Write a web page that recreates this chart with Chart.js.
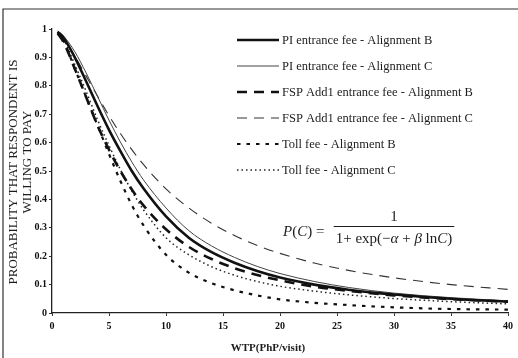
<!DOCTYPE html>
<html>
<head>
<meta charset="utf-8">
<script src="https://cdn.jsdelivr.net/npm/chart.js@4.4.1/dist/chart.umd.min.js"></script>
<style>
  html, body { margin: 0; padding: 0; background: #fff; }
  #wrap { width: 518px; height: 358px; }
</style>
</head>
<body>
<div id="wrap"><canvas id="wtpChart" width="518" height="358"></canvas></div>
<script>
// WTP (PhP/visit) vs probability that respondent is willing to pay
const wtp = [0.5, 1, 2, 3, 4, 5, 6, 7, 8, 10, 12, 14, 16, 18, 20, 23, 26, 30, 35, 40]

const piB  = [0.99, 0.97, 0.90, 0.815, 0.728, 0.645, 0.57, 0.50, 0.44, 0.34, 0.265, 0.214, 0.177, 0.148, 0.125, 0.100, 0.082, 0.065, 0.050, 0.040]
const piC  = [0.993, 0.976, 0.920, 0.845, 0.762, 0.679, 0.602, 0.532, 0.470, 0.370, 0.290, 0.236, 0.196, 0.164, 0.139, 0.111, 0.090, 0.070, 0.054, 0.043]
const fspB = [0.985, 0.955, 0.86, 0.76, 0.66, 0.575, 0.50, 0.435, 0.38, 0.295, 0.233, 0.19, 0.158, 0.134, 0.115, 0.093, 0.078, 0.062, 0.049, 0.040]
const fspC = [0.988, 0.965, 0.904, 0.834, 0.763, 0.695, 0.632, 0.575, 0.524, 0.437, 0.370, 0.316, 0.273, 0.238, 0.210, 0.176, 0.150, 0.124, 0.100, 0.083]
const tollB = [0.99, 0.96, 0.86, 0.76, 0.66, 0.56, 0.465, 0.38, 0.31, 0.205, 0.142, 0.105, 0.08, 0.062, 0.048, 0.036, 0.028, 0.02, 0.014, 0.012]
const tollC = [0.99, 0.965, 0.875, 0.78, 0.68, 0.59, 0.505, 0.43, 0.365, 0.265, 0.205, 0.163, 0.133, 0.111, 0.094, 0.077, 0.064, 0.051, 0.040, 0.032]

const seriesLabels = [
  'PI entrance fee - Alignment B',
  'PI entrance fee - Alignment C',
  'FSP Add1 entrance fee - Alignment B',
  'FSP Add1 entrance fee - Alignment C',
  'Toll fee - Alignment B',
  'Toll fee - Alignment C'
]

const yTitle = ['PROBABILITY THAT RESPONDENT IS', 'WILLING TO PAY']
const xTitle = 'WTP(PhP/visit)'

const SERIF = '"Liberation Serif", "DejaVu Serif", serif'
const INK = '#1c1c1c'

const toPoints = (ys) => ys.map((y, i) => ({ x: wtp[i], y }))

// line styles, same order as seriesLabels
const styles = [
  { borderWidth: 2.6, borderDash: [], borderColor: '#111' },
  { borderWidth: 1, borderDash: [], borderColor: '#444' },
  { borderWidth: 2.6, borderDash: [10, 7], borderColor: '#111' },
  { borderWidth: 1.1, borderDash: [10, 7], borderColor: '#333' },
  { borderWidth: 2.2, borderDash: [3.5, 6], borderColor: '#111' },
  { borderWidth: 1.5, borderDash: [1.5, 3], borderColor: '#222' }
]

const datasets = [piB, piC, fspB, fspC, tollB, tollC].map((ys, i) => ({
  label: seriesLabels[i],
  data: toPoints(ys),
  fill: false,
  pointRadius: 0,
  cubicInterpolationMode: 'monotone',
  ...styles[i]
}))

// draw text runs (plain / italic) left to right, return total width
function drawRuns (ctx, runs, x, y, size, dry) {
  let cx = x
  runs.forEach(([txt, italic]) => {
    ctx.font = (italic ? 'italic ' : '') + size + 'px ' + SERIF
    if (!dry) ctx.fillText(txt, cx, y)
    cx += ctx.measureText(txt).width
  })
  return cx - x
}

const decor = {
  id: 'decor',
  afterDraw (chart) {
    const ctx = chart.ctx
    ctx.save()

    // scanned page frame (left + top)
    ctx.strokeStyle = '#333'
    ctx.lineWidth = 1.2
    ctx.beginPath()
    ctx.moveTo(3, 358)
    ctx.lineTo(3, 9)
    ctx.lineTo(518, 9)
    ctx.stroke()

    // axis titles
    ctx.fillStyle = INK
    ctx.textAlign = 'center'
    ctx.textBaseline = 'middle'
    ctx.font = '13px ' + SERIF
    ctx.save(); ctx.translate(14, 172); ctx.rotate(-Math.PI / 2); ctx.fillText(yTitle[0], 0, 0); ctx.restore()
    ctx.save(); ctx.translate(28, 162); ctx.rotate(-Math.PI / 2); ctx.fillText(yTitle[1], 0, 0); ctx.restore()
    ctx.font = 'bold 11px ' + SERIF
    ctx.fillText(xTitle, 268, 348)

    // legend
    ctx.textAlign = 'left'
    chart.data.datasets.forEach((ds, i) => {
      const y = 40 + i * 26
      ctx.save()
      ctx.strokeStyle = ds.borderColor
      ctx.lineWidth = ds.borderWidth
      ctx.setLineDash(ds.borderDash || [])
      ctx.beginPath()
      ctx.moveTo(237, y)
      ctx.lineTo(279, y)
      ctx.stroke()
      ctx.restore()
      ctx.fillStyle = INK
      ctx.font = '12.5px ' + SERIF
      ctx.fillText(ds.label, 282, y + 1)
    })

    // logit formula
    ctx.textBaseline = 'alphabetic'
    ctx.fillStyle = INK
    drawRuns(ctx, [['P', true], ['(', false], ['C', true], [') =', false]], 283, 236, 15)
    const numRuns = [['1', false]]
    const denRuns = [['1+ exp(\u2212', false], ['\u03b1', true], [' + ', false], ['\u03b2', true], [' ln', false], ['C', true], [')', false]]
    const cx = 394
    const nw = drawRuns(ctx, numRuns, 0, 0, 15, true)
    const dw = drawRuns(ctx, denRuns, 0, 0, 15, true)
    drawRuns(ctx, numRuns, cx - nw / 2, 221, 15)
    drawRuns(ctx, denRuns, cx - dw / 2, 243, 15)
    ctx.strokeStyle = INK
    ctx.lineWidth = 1
    ctx.beginPath()
    ctx.moveTo(cx - dw / 2 - 2, 226.5)
    ctx.lineTo(cx + dw / 2 + 2, 226.5)
    ctx.stroke()

    ctx.restore()
  }
}

/* global Chart */
new Chart(document.getElementById('wtpChart').getContext('2d'), {
  type: 'line',
  data: { datasets },
  options: {
    responsive: false,
    animation: false,
    layout: { padding: { top: 29, right: 10, left: 0, bottom: 0 } },
    plugins: {
      legend: { display: false },
      tooltip: { enabled: false }
    },
    scales: {
      x: {
        type: 'linear',
        min: 0,
        max: 40,
        afterFit: (scale) => { scale.height = 45 },
        ticks: { stepSize: 5, color: '#111', padding: 4, font: { family: SERIF, size: 10, weight: 'bold' } },
        grid: { display: true, drawOnChartArea: false, drawTicks: true, tickLength: 3, color: '#333' },
        border: { display: true, color: '#222', width: 1.3 },
        title: { display: false }
      },
      y: {
        min: 0,
        max: 1,
        afterFit: (scale) => { scale.width = 52 },
        ticks: {
          stepSize: 0.1,
          color: '#111',
          padding: 2,
          font: { family: SERIF, size: 10, weight: 'bold' },
          callback: (v) => (v === 0 || v === 1 ? String(v) : v.toFixed(1))
        },
        grid: { display: true, drawOnChartArea: false, drawTicks: true, tickLength: 3, color: '#333' },
        border: { display: true, color: '#222', width: 1.3 },
        title: { display: false }
      }
    }
  },
  plugins: [decor]
})
</script>
</body>
</html>
